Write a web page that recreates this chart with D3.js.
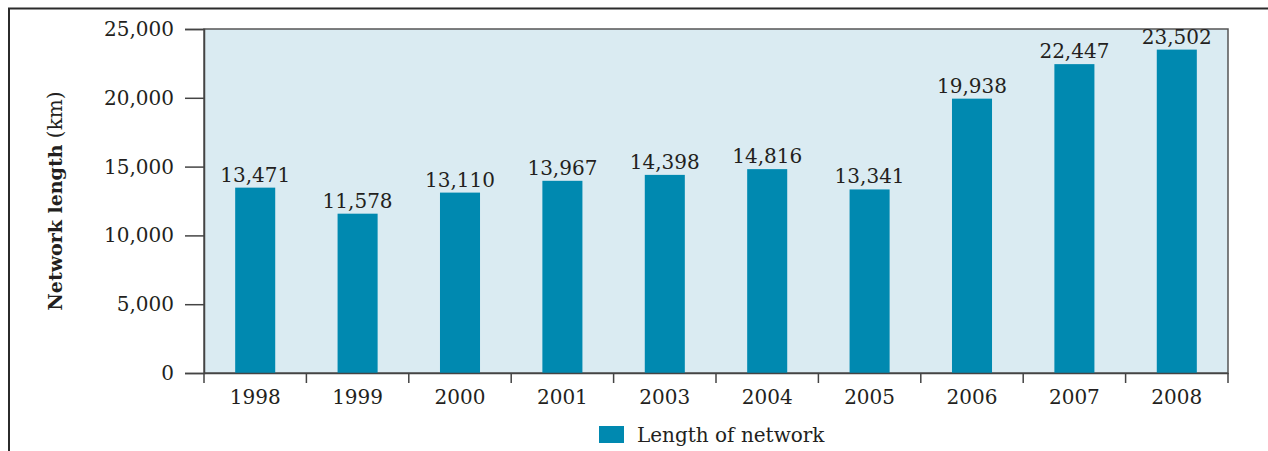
<!DOCTYPE html>
<html>
<head>
<meta charset="utf-8">
<script src="https://cdn.jsdelivr.net/npm/d3@7"></script>
<style>
  body { margin: 0; background: #fff; }
  text { font-family: "DejaVu Serif", serif; fill: #231f20; }
</style>
</head>
<body>
<div id="chart"></div>
<script>
var years = ["1998", "1999", "2000", "2001", "2003", "2004", "2005", "2006", "2007", "2008"];
var lengths = [13471, 11578, 13110, 13967, 14398, 14816, 13341, 19938, 22447, 23502];
var yTicks = [0, 5000, 10000, 15000, 20000, 25000];
var seriesName = "Length of network";

var width = 1268, height = 451,
    plotLeft = 204, plotTop = 29, plotRight = 1228, plotBottom = 373,
    fmt = d3.format(",");

var svg = d3.select("#chart").append("svg")
  .attr("width", width)
  .attr("height", height);

// outer frame (top + left only)
svg.append("path")
  .attr("d", "M9,451 V8.5 H1268")
  .attr("fill", "none")
  .attr("stroke", "#2b2b2b")
  .attr("stroke-width", 2);

var p = 0.609;
var x = d3.scaleBand()
  .domain(years)
  .range([plotLeft, plotRight])
  .paddingInner(p)
  .paddingOuter(p / 2);

var y = d3.scaleLinear()
  .domain([0, 25000])
  .range([plotBottom, plotTop]);

// plot background
svg.append("rect")
  .attr("x", plotLeft)
  .attr("y", plotTop)
  .attr("width", plotRight - plotLeft)
  .attr("height", plotBottom - plotTop)
  .attr("fill", "#daebf2")
  .attr("stroke", "#555")
  .attr("stroke-width", 1.5);

// bars
svg.selectAll("rect.bar")
  .data(years)
  .enter().append("rect")
  .attr("class", "bar")
  .attr("x", function(d) { return x(d); })
  .attr("width", x.bandwidth())
  .attr("y", function(d, i) { return y(lengths[i]); })
  .attr("height", function(d, i) { return y(0) - y(lengths[i]); })
  .attr("fill", "#0089b0");

// value labels
svg.selectAll("text.value")
  .data(years)
  .enter().append("text")
  .attr("class", "value")
  .attr("x", function(d) { return x(d) + x.bandwidth() / 2; })
  .attr("y", function(d, i) { return y(lengths[i]) - 6; })
  .attr("text-anchor", "middle")
  .style("font-size", "20px")
  .text(function(d, i) { return fmt(lengths[i]); });

// y axis
var yAxis = svg.append("g")
  .attr("transform", "translate(" + plotLeft + ",0)")
  .call(d3.axisLeft(y).tickValues(yTicks).tickFormat(fmt).tickSize(19).tickPadding(11));
yAxis.select(".domain").attr("stroke", "#444").attr("stroke-width", 1.5);
yAxis.selectAll(".tick line").attr("stroke", "#444").attr("stroke-width", 1.5);
yAxis.selectAll(".tick text")
  .style("font-family", "DejaVu Serif, serif")
  .style("font-size", "20px")
  .attr("fill", "#231f20");

// x axis (labels centred, ticks at band edges)
var xAxis = svg.append("g")
  .attr("transform", "translate(0," + plotBottom + ")")
  .call(d3.axisBottom(x).tickSize(0).tickPadding(17));
xAxis.select(".domain").attr("stroke", "#444").attr("stroke-width", 1.5);
xAxis.selectAll(".tick text")
  .style("font-family", "DejaVu Serif, serif")
  .style("font-size", "20px")
  .attr("fill", "#231f20");

var step = x.step();
xAxis.selectAll("line.edge")
  .data(d3.range(years.length + 1))
  .enter().append("line")
  .attr("class", "edge")
  .attr("x1", function(i) { return plotLeft + i * step; })
  .attr("x2", function(i) { return plotLeft + i * step; })
  .attr("y1", 0)
  .attr("y2", 10)
  .attr("stroke", "#444")
  .attr("stroke-width", 1.5);

// y title
var yt = svg.append("text")
  .attr("transform", "translate(62," + (plotTop + plotBottom) / 2 + ") rotate(-90)")
  .attr("text-anchor", "middle")
  .style("font-size", "19px");
yt.append("tspan").style("font-weight", "bold").text("Network length");
yt.append("tspan").style("font-size", "20px").text(" (km)");

// legend
var lg = svg.append("g").attr("transform", "translate(599,426)");
lg.append("rect")
  .attr("width", 25)
  .attr("height", 17)
  .attr("fill", "#0089b0");
lg.append("text")
  .attr("x", 38)
  .attr("y", 16)
  .style("font-size", "20px")
  .text(seriesName);
</script>
</body>
</html>
